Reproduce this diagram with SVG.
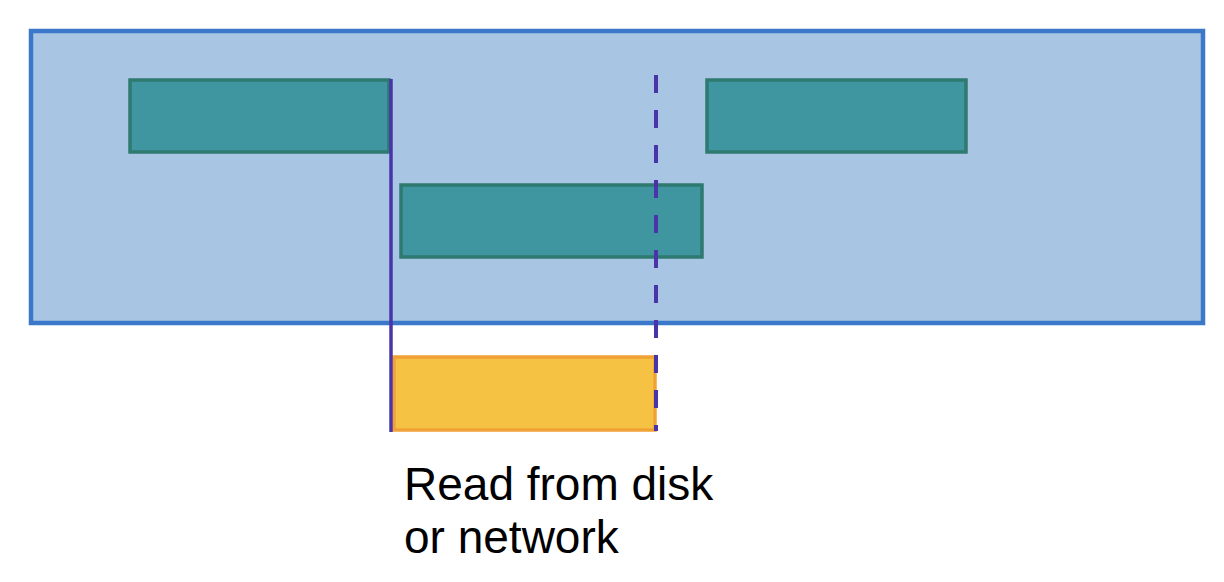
<svg xmlns="http://www.w3.org/2000/svg" width="1224" height="582" viewBox="0 0 1224 582">
<style>
.bar{fill:#3f95a0;stroke:#2f7a70;stroke-width:3.5}
.lbl{font-family:"Liberation Sans",Arial,sans-serif;font-size:46px;fill:#000}
</style>
<rect width="1224" height="582" fill="#fff"/>
<g id="frame"><rect x="31" y="31" width="1172" height="292" fill="#a8c6e3" stroke="#3b78c9" stroke-width="4.5"/></g>
<g id="task1"><rect class="bar" x="130" y="80" width="259" height="72"/></g>
<g id="task2"><rect class="bar" x="401" y="185" width="301" height="72"/></g>
<g id="task3"><rect class="bar" x="707" y="80" width="259" height="72"/></g>
<g id="read"><rect x="394" y="357" width="261" height="73" fill="#f5c243" stroke="#f0a236" stroke-width="3.5"/></g>
<g id="connectors">
<line x1="391" y1="79" x2="391" y2="432" stroke="#4a35a8" stroke-width="3.5"/>
<line x1="656" y1="75" x2="656" y2="431" stroke="#4a35a8" stroke-width="4" stroke-dasharray="18 17"/>
</g>
<g id="label"><text class="lbl" x="404" y="500">Read from disk</text><text class="lbl" x="404" y="553">or network</text></g>
</svg>
